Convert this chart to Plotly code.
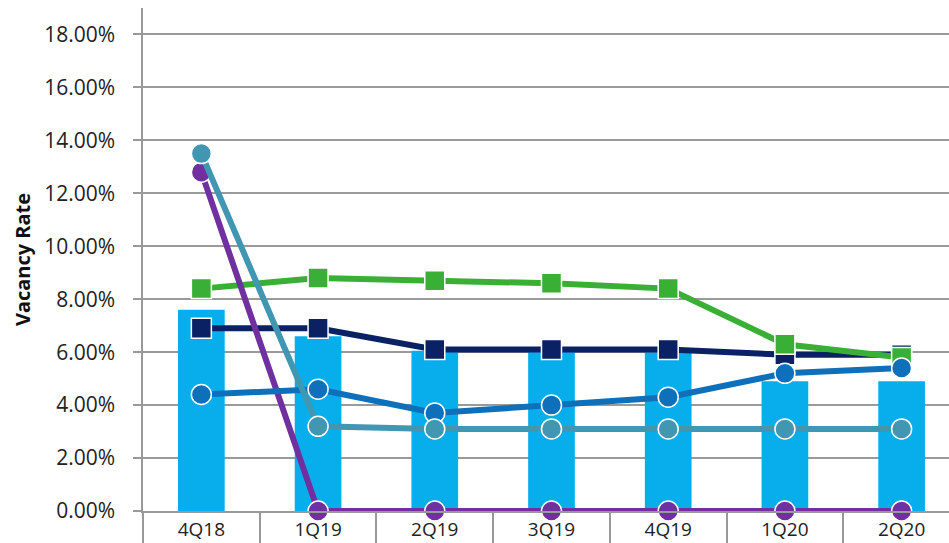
import plotly.graph_objects as go

quarters = ["4Q18", "1Q19", "2Q19", "3Q19", "4Q19", "1Q20", "2Q20"]
overall_bar = [0.076, 0.066, 0.0605, 0.0605, 0.060, 0.049, 0.049]
navy_series = [0.069, 0.069, 0.061, 0.061, 0.061, 0.059, 0.059]
green_series = [0.084, 0.088, 0.087, 0.086, 0.084, 0.063, 0.058]
purple_series = [0.128, 0.0, 0.0, 0.0, 0.0, 0.0, 0.0]
blue_series = [0.044, 0.046, 0.037, 0.040, 0.043, 0.052, 0.054]
teal_series = [0.135, 0.032, 0.031, 0.031, 0.031, 0.031, 0.031]
y_ticks = [0.0, 0.02, 0.04, 0.06, 0.08, 0.10, 0.12, 0.14, 0.16, 0.18]

xi = list(range(len(quarters)))
FONT = "Open Sans"

fig = go.Figure()
fig.add_trace(go.Bar(x=xi, y=overall_bar, name="Overall", marker_color="#08AEEC",
                     marker_line_width=0, width=0.4))

def line(vals, color, symbol, name):
    fig.add_trace(go.Scatter(
        x=xi, y=vals, name=name, mode="lines+markers",
        line=dict(color=color, width=6),
        marker=dict(symbol=symbol, size=20, color=color,
                    line=dict(color="white", width=1.5)),
        cliponaxis=False))

line(navy_series, "#0A2163", "square", "Series A")
line(green_series, "#3AAF36", "square", "Series B")
line(purple_series, "#7030A0", "circle", "Series C")
line(blue_series, "#0E6FBA", "circle", "Series D")
line(teal_series, "#4197B2", "circle", "Series E")

fig.update_layout(
    width=949, height=543,
    margin=dict(l=143, r=0, t=8, b=32),
    paper_bgcolor="white", plot_bgcolor="white",
    showlegend=False,
    font=dict(family=FONT, size=21, color="#222222"),
)
fig.update_xaxes(
    range=[-0.5, 6.406], tickmode="array", tickvals=xi, ticktext=quarters,
    showgrid=False, zeroline=False, automargin=False,
    showline=True, linecolor="#999999", linewidth=1.5,
    ticks="", ticklabelstandoff=0,
    minor=dict(ticks="outside", tick0=-0.5, dtick=1, ticklen=32,
               tickcolor="#999999", tickwidth=1.5, showgrid=False),
    tickfont=dict(family=FONT, size=19, color="#222222"),
)
fig.update_yaxes(
    range=[0, 0.19], tickmode="array", tickvals=y_ticks, tickformat=".2%",
    showgrid=True, gridcolor="#9a9a9a", gridwidth=1.5,
    zeroline=False, showline=True, linecolor="#999999", linewidth=1.5,
    ticks="outside", ticklen=8, tickcolor="#999999", tickwidth=1.5,
    ticklabelstandoff=14, automargin=False,
    tickfont=dict(family=FONT, size=21, color="#222222"),
    title=dict(text="<b>Vacancy Rate</b>", font=dict(family=FONT, size=20, color="#111111"),
               standoff=8),
)

fig.write_html("out.html")
